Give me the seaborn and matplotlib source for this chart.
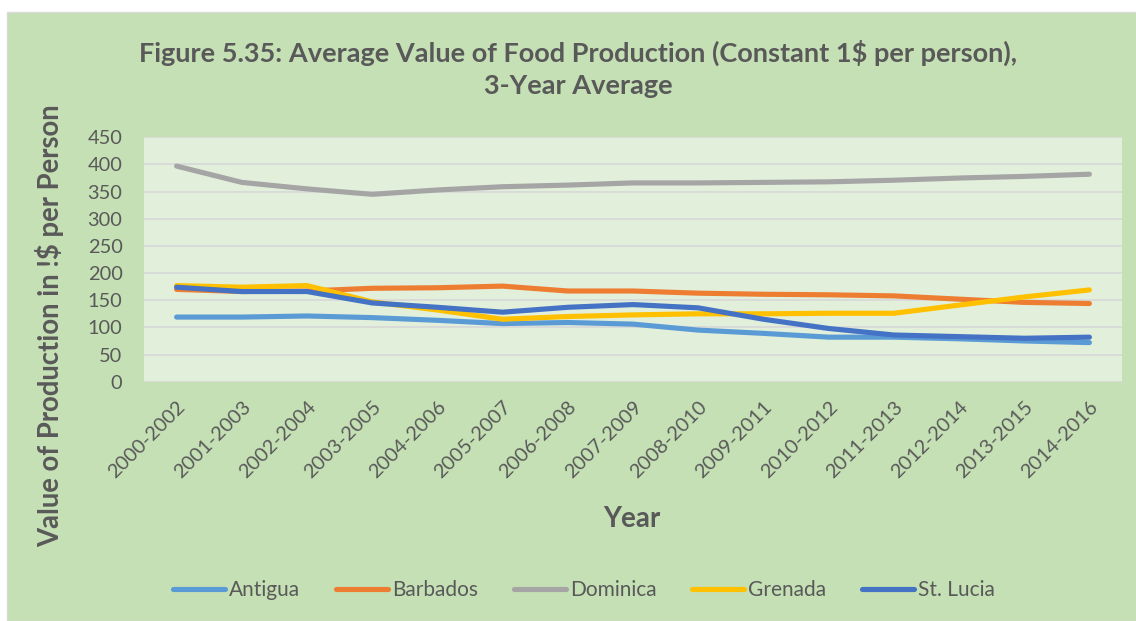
import matplotlib
matplotlib.use("Agg")
import matplotlib.pyplot as plt
from matplotlib.patches import Rectangle
import pandas as pd
import seaborn as sns

periods = ["2000-2002", "2001-2003", "2002-2004", "2003-2005", "2004-2006",
           "2005-2007", "2006-2008", "2007-2009", "2008-2010", "2009-2011",
           "2010-2012", "2011-2013", "2012-2014", "2013-2015", "2014-2016"]

antigua = [119, 119, 121, 118, 113, 107, 109, 106, 95, 89, 82, 82, 79, 75, 72]
barbados = [170, 166, 167, 172, 173, 176, 167, 167, 163, 161, 160, 158, 152, 146, 144]
dominica = [397, 367, 355, 345, 353, 359, 362, 366, 366, 367, 368, 371, 375, 378, 382]
grenada = [177, 174, 177, 147, 132, 115, 120, 123, 125, 125, 126, 126, 141, 156, 169]
st_lucia = [174, 166, 166, 145, 137, 128, 137, 142, 136, 115, 98, 86, 83, 80, 82]

countries = ["Antigua", "Barbados", "Dominica", "Grenada", "St. Lucia"]
colors = ["#5B9BD5", "#ED7D31", "#A5A5A5", "#FFC000", "#4472C4"]
y_ticks = [0, 50, 100, 150, 200, 250, 300, 350, 400, 450]

title = "Figure 5.35: Average Value of Food Production (Constant 1$ per person),\n3-Year Average"
x_label = "Year"
y_label = "Value of Production in !$ per Person"

series = [antigua, barbados, dominica, grenada, st_lucia]
df = pd.DataFrame({
    "Period": periods * len(countries),
    "Value": [v for s in series for v in s],
    "Country": [c for c in countries for _ in periods],
})

sns.set_theme(style="white")
plt.rcParams["font.family"] = ["Lato", "DejaVu Sans"]
text_color = "#595959"

fig = plt.figure(figsize=(11.36, 6.21), dpi=100, facecolor="white")
fig.patches.append(Rectangle((7 / 1136, 0), 1, 1 - 12 / 621, transform=fig.transFigure,
                             facecolor="#C5E0B4", edgecolor="#D9D9D9", linewidth=1,
                             zorder=-10))

ax = fig.add_axes([144 / 1136, 1 - 381.7 / 621, 978 / 1136, 244.4 / 621])
ax.set_facecolor("#E2EFDA")

sns.lineplot(data=df, x="Period", y="Value", hue="Country", hue_order=countries,
             palette=colors, linewidth=3.7, sort=False, ax=ax, legend=False)
for line in ax.lines:
    line.set_solid_capstyle("round")
    line.set_solid_joinstyle("round")

ax.set_xlim(-0.5, len(periods) - 0.5)
ax.set_ylim(0, 450)
ax.set_yticks(y_ticks)
ax.set_yticklabels([str(t) for t in y_ticks])
ax.yaxis.grid(True, color="#D9D9D9", linewidth=1.3)
ax.set_axisbelow(True)
for s in ax.spines.values():
    s.set_visible(False)

ax.tick_params(axis="y", length=0, pad=15.5, labelsize=14.4, labelcolor=text_color)
ax.tick_params(axis="x", length=0, pad=12, labelsize=14.4, labelcolor=text_color)
ax.set_xticks(range(len(periods)))
ax.set_xticklabels(periods, rotation=45, ha="right", rotation_mode="anchor")

ax.set_xlabel("")
ax.set_ylabel("")
fig.text(632 / 1136, 1 - 519 / 621, x_label, ha="center", va="center",
         fontsize=20, fontweight="bold", color=text_color)
fig.text(50 / 1136, 1 - 326 / 621, y_label, ha="center", va="center", rotation=90,
         fontsize=19.8, fontweight="bold", color=text_color)
fig.text(578 / 1136, 1 - 68.5 / 621, title, ha="center", va="center",
         fontsize=19.5, fontweight="bold", color=text_color, linespacing=1.4)

handles = ax.lines[:len(countries)]
fig.legend(handles, countries, loc="center", bbox_to_anchor=(584 / 1136, 1 - 590 / 621),
           ncol=5, frameon=False, fontsize=15, labelcolor=text_color,
           handlelength=2.5, handletextpad=0.2, columnspacing=1.7)

fig.savefig("out.png", dpi=100, facecolor="white")
